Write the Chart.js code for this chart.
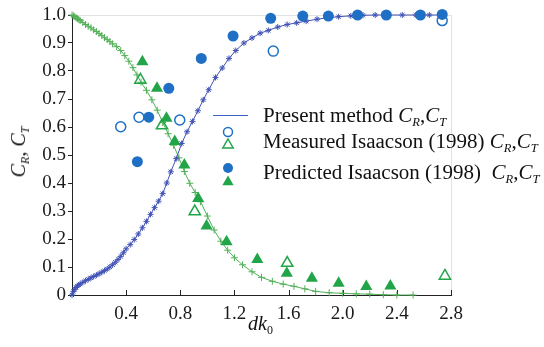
<!DOCTYPE html>
<html>
<head>
<meta charset="utf-8">
<script src="https://cdn.jsdelivr.net/npm/chart.js@4/dist/chart.umd.min.js"></script>
<style>
  body { margin: 0; background: #fff; }
  #wrap { position: relative; width: 544px; height: 347px; font-family: "Liberation Serif", serif; color: #111; }
  #chart { position: absolute; left: 0; top: 0; }
  .lab { position: absolute; white-space: nowrap; font-size: 20px; line-height: 1; }
  .lab sub { font-size: 12px; vertical-align: -4px; line-height: 0; }
  .leg { transform: scaleX(1.05); transform-origin: 0 0; }
  #ytitle { left: 18px; top: 152px; transform: translate(-50%, -50%) rotate(-90deg); }
</style>
</head>
<body>
<div id="wrap">
  <canvas id="chart" width="544" height="347"></canvas>
  <div class="lab leg" style="left:263px; top:105px;">Present method <i>C</i><sub><i>R</i></sub>,<i>C</i><sub><i>T</i></sub></div>
  <div class="lab leg" style="left:263px; top:131px;">Measured Isaacson (1998) <i>C</i><sub><i>R</i></sub>,<i>C</i><sub><i>T</i></sub></div>
  <div class="lab leg" style="left:263px; top:162px;">Predicted Isaacson (1998)&nbsp; <i>C</i><sub><i>R</i></sub>,<i>C</i><sub><i>T</i></sub></div>
  <div class="lab" id="ytitle"><i>C</i><sub><i>R</i></sub>, <i>C</i><sub><i>T</i></sub></div>
  <div class="lab" style="left:248px; top:313px;"><i>dk</i><sub>0</sub></div>
</div>
<script>
// present method, reflection coefficient C_R
const presentDk = [0, 0.01, 0.02, 0.03, 0.04, 0.05, 0.06, 0.08, 0.10, 0.12, 0.14, 0.16, 0.18, 0.20, 0.22, 0.24, 0.26, 0.28, 0.30,
    0.32, 0.34, 0.36, 0.38, 0.40, 0.43, 0.46, 0.49, 0.52, 0.55, 0.58, 0.61, 0.64, 0.67, 0.70, 0.73, 0.77, 0.81, 0.85, 0.89,
    0.93, 0.97, 1.01, 1.06, 1.11, 1.16, 1.21, 1.27, 1.33, 1.39, 1.45, 1.52, 1.59, 1.66, 1.73, 1.81, 1.89, 1.97, 2.06, 2.15,
    2.24, 2.34, 2.44, 2.54, 2.64, 2.74];
const presentCR = [0, 0.012, 0.02, 0.027, 0.032, 0.036, 0.039, 0.045, 0.051, 0.056, 0.061, 0.066, 0.071, 0.076, 0.081, 0.087, 0.093, 0.1, 0.108,
    0.117, 0.127, 0.138, 0.151, 0.165, 0.18, 0.198, 0.218, 0.24, 0.263, 0.288, 0.312, 0.335, 0.362, 0.4, 0.44, 0.487, 0.541, 0.583, 0.62,
    0.658, 0.697, 0.733, 0.777, 0.811, 0.845, 0.873, 0.9, 0.918, 0.935, 0.945, 0.957, 0.966, 0.972, 0.978, 0.985, 0.99, 0.994, 0.997, 0.999,
    1.0, 1.0, 1.0, 1.0, 1.0, 1.0];

// present method, transmission coefficient C_T
const presentCTDk = [0, 0.01, 0.02, 0.03, 0.04, 0.05, 0.06, 0.08, 0.10, 0.12, 0.14, 0.16, 0.18, 0.20, 0.22, 0.24, 0.26, 0.28, 0.30,
    0.33, 0.36, 0.39, 0.42, 0.45, 0.48, 0.51, 0.55, 0.59, 0.63, 0.67, 0.71, 0.75, 0.79, 0.83, 0.87, 0.91, 0.95, 1.0, 1.05,
    1.1, 1.15, 1.2, 1.26, 1.33, 1.4, 1.48, 1.56, 1.64, 1.72, 1.8, 1.9, 2.0, 2.1, 2.2, 2.3, 2.4, 2.52];
const presentCT = [1.0, 0.997, 0.994, 0.99, 0.987, 0.984, 0.98, 0.973, 0.966, 0.96, 0.954, 0.947, 0.941, 0.934, 0.927, 0.919, 0.912, 0.905, 0.897,
    0.887, 0.873, 0.855, 0.835, 0.812, 0.786, 0.76, 0.731, 0.697, 0.66, 0.616, 0.576, 0.535, 0.49, 0.441, 0.399, 0.366, 0.333, 0.282, 0.232,
    0.192, 0.16, 0.133, 0.108, 0.083, 0.063, 0.049, 0.039, 0.031, 0.022, 0.013, 0.008, 0.006, 0.004, 0.003, 0.001, 0, 0];

// Isaacson (1998)
const measuredCRDk = [0.36, 0.495, 0.796, 1.487, 2.735];
const measuredCR = [0.601, 0.635, 0.625, 0.871, 0.98];
const measuredCTDk = [0.505, 0.665, 0.907, 1.59, 2.755];
const measuredCT = [0.768, 0.605, 0.298, 0.114, 0.068];
const predictedCRDk = [0.483, 0.567, 0.715, 0.955, 1.19, 1.468, 1.705, 1.894, 2.11, 2.322, 2.574, 2.735];
const predictedCR = [0.476, 0.635, 0.738, 0.845, 0.925, 0.988, 0.996, 0.996, 1.0, 1.0, 1.0, 1.002];
const predictedCTDk = [0.52, 0.628, 0.698, 0.759, 0.83, 0.932, 0.994, 1.142, 1.369, 1.587, 1.772, 1.97, 2.174, 2.352];
const predictedCT = [0.833, 0.738, 0.631, 0.548, 0.464, 0.345, 0.246, 0.19, 0.127, 0.078, 0.06, 0.042, 0.03, 0.032];

const xTicks = [0.4, 0.8, 1.2, 1.6, 2.0, 2.4, 2.8];

const blueLine = '#4152b5';
const greenLine = '#52b058';
const blueDot = '#1f6fc4';
const greenDot = '#22a548';

const pts = (xs, ys) => xs.map((x, i) => ({ x: x, y: ys[i] }));

// faint frame on top/right, inward ticks on the x axis
const frame = {
    id: 'frame',
    beforeDatasetsDraw(chart) {
        const { ctx, chartArea: a, scales: { x } } = chart;
        ctx.save();
        ctx.strokeStyle = '#e2e2e2';
        ctx.lineWidth = 1;
        ctx.beginPath();
        ctx.moveTo(a.left, a.top + 0.5);
        ctx.lineTo(a.right + 0.5, a.top + 0.5);
        ctx.lineTo(a.right + 0.5, a.bottom);
        ctx.stroke();
        ctx.strokeStyle = '#222';
        xTicks.forEach(v => {
            const px = Math.round(x.getPixelForValue(v)) + 0.5;
            ctx.beginPath();
            ctx.moveTo(px, a.bottom);
            ctx.lineTo(px, a.bottom - 5);
            ctx.stroke();
        });
        ctx.restore();
    }
};

// legend symbols (the texts are html)
const legendMarks = {
    id: 'legendMarks',
    afterDraw(chart) {
        const ctx = chart.ctx;
        ctx.save();
        ctx.lineWidth = 1.2;
        ctx.strokeStyle = '#3a63c0';
        ctx.beginPath();
        ctx.moveTo(213, 115.5);
        ctx.lineTo(248, 115.5);
        ctx.stroke();

        const tri = (cx, cy, r) => {
            ctx.beginPath();
            ctx.moveTo(cx, cy - r);
            ctx.lineTo(cx + r * 0.866, cy + r * 0.5);
            ctx.lineTo(cx - r * 0.866, cy + r * 0.5);
            ctx.closePath();
        };
        ctx.lineWidth = 1.5;
        ctx.strokeStyle = blueDot;
        ctx.beginPath();
        ctx.arc(228, 132, 4.5, 0, Math.PI * 2);
        ctx.stroke();
        ctx.strokeStyle = greenDot;
        tri(228, 145, 6);
        ctx.stroke();
        ctx.fillStyle = blueDot;
        ctx.beginPath();
        ctx.arc(228, 168, 5, 0, Math.PI * 2);
        ctx.fill();
        ctx.fillStyle = greenDot;
        tri(228, 182, 6.5);
        ctx.fill();
        ctx.restore();
    }
};

const tickFont = { family: '"Liberation Serif", serif', size: 19 };

new Chart(document.getElementById('chart'), {
    type: 'scatter',
    data: {
        datasets: [
            {
                label: 'Present method C_R',
                data: pts(presentDk, presentCR),
                showLine: true,
                borderColor: blueLine,
                borderWidth: 1,
                pointStyle: 'star',
                pointRadius: 3,
                pointBorderWidth: 1,
                pointBorderColor: blueLine,
                order: 3
            },
            {
                label: 'Present method C_T',
                data: pts(presentCTDk, presentCT),
                showLine: true,
                borderColor: greenLine,
                borderWidth: 1,
                pointStyle: 'cross',
                pointRadius: 3.5,
                pointBorderWidth: 1,
                pointBorderColor: greenLine,
                order: 3
            },
            {
                label: 'Measured C_R',
                data: pts(measuredCRDk, measuredCR),
                pointStyle: 'circle',
                pointRadius: 5,
                pointBorderWidth: 1.5,
                pointBorderColor: blueDot,
                pointBackgroundColor: 'rgba(255,255,255,0)',
                order: 2
            },
            {
                label: 'Measured C_T',
                data: pts(measuredCTDk, measuredCT),
                pointStyle: 'triangle',
                pointRadius: 6.5,
                pointBorderWidth: 1.5,
                pointBorderColor: greenDot,
                pointBackgroundColor: 'rgba(255,255,255,0)',
                order: 2
            },
            {
                label: 'Predicted C_R',
                data: pts(predictedCRDk, predictedCR),
                pointStyle: 'circle',
                pointRadius: 5.5,
                pointBorderWidth: 0,
                pointBackgroundColor: blueDot,
                order: 1
            },
            {
                label: 'Predicted C_T',
                data: pts(predictedCTDk, predictedCT),
                pointStyle: 'triangle',
                pointRadius: 7,
                pointBorderWidth: 0,
                pointBackgroundColor: greenDot,
                order: 1
            }
        ]
    },
    options: {
        responsive: false,
        animation: false,
        clip: false,
        layout: { padding: { top: 15, right: 93, left: 0, bottom: 0 } },
        plugins: {
            legend: { display: false },
            tooltip: { enabled: false }
        },
        scales: {
            x: {
                type: 'linear',
                min: 0,
                max: 2.8,
                grid: { display: false, drawTicks: false },
                border: { display: true, color: '#222', width: 1 },
                ticks: {
                    stepSize: 0.4,
                    padding: 8,
                    color: '#1a1a1a',
                    font: tickFont,
                    maxRotation: 0,
                    callback: v => v === 0 ? '' : v.toFixed(1)
                },
                afterFit: s => { s.height = 52; }
            },
            y: {
                min: 0,
                max: 1,
                grid: { display: true, drawOnChartArea: false, drawTicks: true, tickLength: 4, color: '#222' },
                border: { display: true, color: '#222', width: 1 },
                ticks: {
                    stepSize: 0.1,
                    padding: 2,
                    color: '#1a1a1a',
                    font: tickFont,
                    callback: v => v === 0 ? '0' : v.toFixed(1)
                },
                afterFit: s => { s.width = 72; }
            }
        }
    },
    plugins: [frame, legendMarks]
});
</script>
</body>
</html>
